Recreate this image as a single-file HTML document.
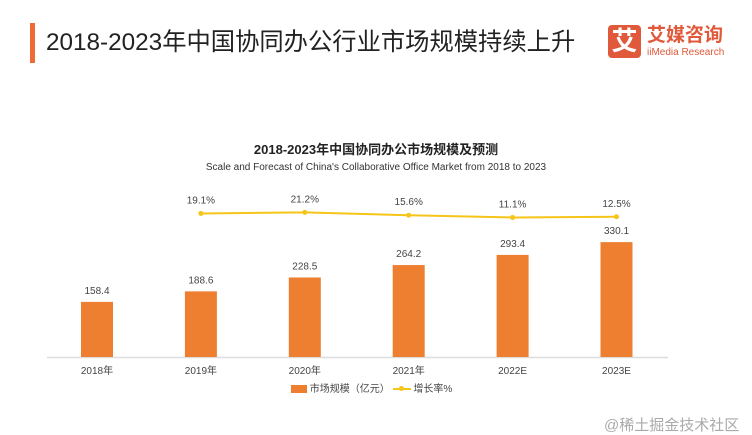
<!DOCTYPE html>
<html><head><meta charset="utf-8"><style>
body{margin:0;width:752px;height:435px;background:#fff;overflow:hidden;font-family:"Liberation Sans","Noto Sans CJK SC",sans-serif;position:relative}
.a{position:absolute;white-space:nowrap}
</style></head><body>
<div class="a" style="left:30px;top:23px;width:5px;height:40px;background:#f06a35"></div>
<div class="a" style="left:46px;top:26px;font-size:24.3px;color:#222;line-height:34px">2018-2023年中国协同办公行业市场规模持续上升</div>
<div class="a" style="left:608px;top:25px;width:33px;height:33px;background:#e0593a;border-radius:4px;color:#fff;font-size:26px;line-height:33px;text-align:center;font-weight:bold">艾</div>
<div class="a" style="left:647px;top:25px;font-size:19px;color:#e0593a;font-weight:bold;line-height:22px">艾媒咨询</div>
<div class="a" style="left:647px;top:47px;font-size:10px;color:#e0593a;line-height:12px">iiMedia Research</div>
<div class="a" style="left:0;width:752px;text-align:center;top:139px;font-size:13px;font-weight:bold;color:#222">2018-2023年中国协同办公市场规模及预测</div>
<div class="a" style="left:0;width:752px;text-align:center;top:162px;font-size:10px;color:#333">Scale and Forecast of China's Collaborative Office Market from 2018 to 2023</div>
<svg class="a" style="left:0;top:0" width="752" height="435" id="chart"></svg>
<div class="a" style="left:604px;top:414px;font-size:15px;color:#aaa">@稀土掘金技术社区</div>
<script>
const categories=["2018年","2019年","2020年","2021年","2022E","2023E"];
const marketSize=[158.4,188.6,228.5,264.2,293.4,330.1];
const growthCats=["2019年","2020年","2021年","2022E","2023E"];
const growthRate=[19.1,21.2,15.6,11.1,12.5];
const growthLabels=["19.1%","21.2%","15.6%","11.1%","12.5%"];
const svg=document.getElementById('chart');
const NS="http://www.w3.org/2000/svg";
function mk(t,a){const e=document.createElementNS(NS,t);for(const k in a)e.setAttribute(k,a[k]);svg.appendChild(e);return e;}
const base=357;
function xc(i){return 97+i*103.9;}
function yb(v){return base-v*0.348;}
function yl(v){return 223-v*0.5;}
let ax=mk('line',{x1:47,x2:668,y1:base+0.5,y2:base+0.5,stroke:'#ddd','stroke-width':1.5});


categories.forEach((c,i)=>{
 const r=mk('rect',{x:xc(i)-16,y:yb(marketSize[i]),width:32,height:base-yb(marketSize[i]),fill:'#ee7f31'});
 
 
 const t=mk('text',{x:xc(i),y:yb(marketSize[i])-8,'text-anchor':'middle','font-size':10,fill:'#444'});t.textContent=marketSize[i].toFixed(1);
 
 
 const l=mk('text',{x:xc(i),y:base+17,'text-anchor':'middle','font-size':10,fill:'#444'});l.textContent=c;
 
 
});
const pts=growthCats.map((c,i)=>[xc(categories.indexOf(c)),yl(growthRate[i])]);
const pl=mk('polyline',{points:pts.map(p=>p.join(',')).join(' '),fill:'none',stroke:'#f5c518','stroke-width':2});


pts.forEach((p,i)=>{
 const c=mk('circle',{cx:p[0],cy:p[1],r:2.5,fill:'#f5c518'});
 
 
 const t=mk('text',{x:p[0],y:p[1]-10,'text-anchor':'middle','font-size':10,fill:'#444'});t.textContent=growthLabels[i];
 
 
});
</script>
<div class="a" style="left:291px;top:384px;font-size:10px;color:#444;line-height:12px">
<span style="display:inline-block;width:16px;height:8px;background:#ee7f31;vertical-align:middle"></span>
<span>市场规模（亿元）</span>
<span style="display:inline-block;width:18px;height:2px;background:#f5c518;vertical-align:middle;position:relative"><span style="position:absolute;left:6px;top:-2px;width:5px;height:5px;border-radius:50%;background:#f5c518"></span></span>
<span>增长率%</span>
</div>
</body></html>
